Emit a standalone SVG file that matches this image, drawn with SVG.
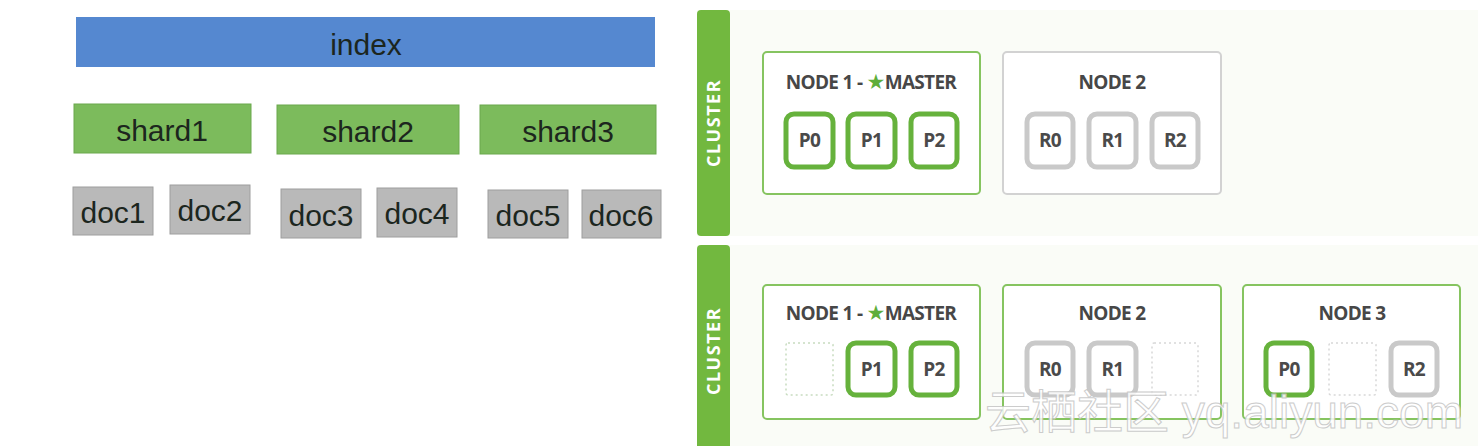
<svg xmlns="http://www.w3.org/2000/svg" width="1478" height="446" viewBox="0 0 1478 446">
<style>
.lt{font-family:"Liberation Sans",Arial,sans-serif;font-size:30px;fill:#1c261e;text-anchor:middle;dominant-baseline:central}
.idx{fill:#5588d0}
.sh{fill:#7cbb5c;stroke:#6aa84c;stroke-width:1}
.doc{fill:#b9b9b9;stroke:#9e9e9e;stroke-width:1}
.panel{fill:#fafcf7}
.bar{fill:#72b83f}
.cl{font-family:"Open Sans","DejaVu Sans",sans-serif;font-weight:700;font-size:18px;fill:#ffffff;text-anchor:middle;letter-spacing:1.5px}
.ng{fill:#ffffff;stroke:#86c460;stroke-width:2}
.nw{fill:#ffffff;stroke:#d2d2d2;stroke-width:2}
.nt{font-family:"Open Sans","DejaVu Sans",sans-serif;font-weight:700;font-size:19px;fill:#474747;text-anchor:middle;letter-spacing:-0.7px}
.star{fill:#5fae3a;font-size:21px}
.pg{fill:#ffffff;stroke:#66b23c;stroke-width:5}
.rg{fill:#ffffff;stroke:#c9c9c9;stroke-width:5}
.ph{fill:none;stroke:#c8dcc0;stroke-width:1.5;stroke-dasharray:2 3}
.phg{fill:none;stroke:#d8d8d8;stroke-width:1.5;stroke-dasharray:2 3}
.st{font-family:"Open Sans","DejaVu Sans",sans-serif;font-weight:700;font-size:19px;fill:#4a4a4a;text-anchor:middle;dominant-baseline:central;letter-spacing:-0.6px}
.wm{font-family:"Liberation Sans","Noto Sans CJK SC",sans-serif;font-size:46px;fill:#ffffff;stroke:#c4c4c4;stroke-width:1;opacity:0.85}
</style>
<rect width="1478" height="446" fill="#ffffff"/>

<g id="index"><rect class="idx" x="76" y="17" width="579" height="50"/><text class="lt" x="366" y="44">index</text></g>
<g id="shard1"><rect class="sh" x="74" y="104" width="177" height="49"/><text class="lt" x="162" y="130">shard1</text></g>
<g id="shard2"><rect class="sh" x="277" y="105" width="182" height="49"/><text class="lt" x="368" y="131">shard2</text></g>
<g id="shard3"><rect class="sh" x="480" y="105" width="176" height="49"/><text class="lt" x="568" y="131">shard3</text></g>
<g id="doc1"><rect class="doc" x="73" y="187" width="80" height="48"/><text class="lt" x="113" y="212">doc1</text></g>
<g id="doc2"><rect class="doc" x="170" y="185" width="80" height="49"/><text class="lt" x="210" y="210">doc2</text></g>
<g id="doc3"><rect class="doc" x="281" y="189" width="80" height="49"/><text class="lt" x="321" y="215">doc3</text></g>
<g id="doc4"><rect class="doc" x="377" y="188" width="80" height="49"/><text class="lt" x="417" y="213">doc4</text></g>
<g id="doc5"><rect class="doc" x="488" y="190" width="80" height="48"/><text class="lt" x="528" y="215">doc5</text></g>
<g id="doc6"><rect class="doc" x="582" y="190" width="79" height="48"/><text class="lt" x="621" y="215">doc6</text></g>

<g id="cluster1">
<rect class="panel" x="697" y="10" width="781" height="226"/>
<rect class="bar" x="697" y="10" width="33" height="226" rx="4"/>
<text class="cl" transform="translate(720,123) rotate(-90)">CLUSTER</text>
</g>
<g id="c1-node1">
<rect class="ng" x="763" y="52" width="217" height="142" rx="4"/>
<text class="nt" x="871" y="89">NODE 1 - <tspan class="star">★</tspan>MASTER</text>
<rect class="pg" x="786" y="114" width="47" height="53" rx="8"/><text class="st" x="809.5" y="140">P0</text>
<rect class="pg" x="848" y="114" width="47" height="53" rx="8"/><text class="st" x="871.5" y="140">P1</text>
<rect class="pg" x="911" y="114" width="46" height="53" rx="8"/><text class="st" x="934" y="140">P2</text>
</g>
<g id="c1-node2">
<rect class="nw" x="1003" y="52" width="218" height="142" rx="4"/>
<text class="nt" x="1112" y="89">NODE 2</text>
<rect class="rg" x="1027" y="114" width="46" height="53" rx="8"/><text class="st" x="1050" y="140">R0</text>
<rect class="rg" x="1089" y="114" width="47" height="53" rx="8"/><text class="st" x="1112.5" y="140">R1</text>
<rect class="rg" x="1152" y="114" width="46" height="53" rx="8"/><text class="st" x="1175" y="140">R2</text>
</g>

<g id="cluster2">
<rect class="panel" x="697" y="245" width="781" height="201"/>
<rect class="bar" x="697" y="245" width="33" height="210" rx="4"/>
<text class="cl" transform="translate(720,351) rotate(-90)">CLUSTER</text>
</g>
<g id="c2-node1">
<rect class="ng" x="763" y="285" width="217" height="134" rx="4"/>
<text class="nt" x="871" y="320">NODE 1 - <tspan class="star">★</tspan>MASTER</text>
<rect class="ph" x="786" y="343" width="47" height="52" rx="2"/>
<rect class="pg" x="848" y="343" width="47" height="52" rx="8"/><text class="st" x="871.5" y="369">P1</text>
<rect class="pg" x="911" y="343" width="46" height="52" rx="8"/><text class="st" x="934" y="369">P2</text>
</g>
<g id="c2-node2">
<rect class="ng" x="1003" y="285" width="218" height="134" rx="4"/>
<text class="nt" x="1112" y="320">NODE 2</text>
<rect class="rg" x="1027" y="343" width="46" height="52" rx="8"/><text class="st" x="1050" y="369">R0</text>
<rect class="rg" x="1089" y="343" width="47" height="52" rx="8"/><text class="st" x="1112.5" y="369">R1</text>
<rect class="phg" x="1152" y="343" width="46" height="52" rx="2"/>
</g>
<g id="c2-node3">
<rect class="ng" x="1243" y="285" width="217" height="134" rx="4"/>
<text class="nt" x="1352" y="320">NODE 3</text>
<rect class="pg" x="1266" y="343" width="46" height="52" rx="8"/><text class="st" x="1289" y="369">P0</text>
<rect class="phg" x="1329" y="343" width="47" height="52" rx="2"/>
<rect class="rg" x="1391" y="343" width="46" height="52" rx="8"/><text class="st" x="1414" y="369">R2</text>
</g>

<g id="connectors"></g>

<text class="wm" x="985" y="428">云栖社区 yq.aliyun.com</text>
</svg>
